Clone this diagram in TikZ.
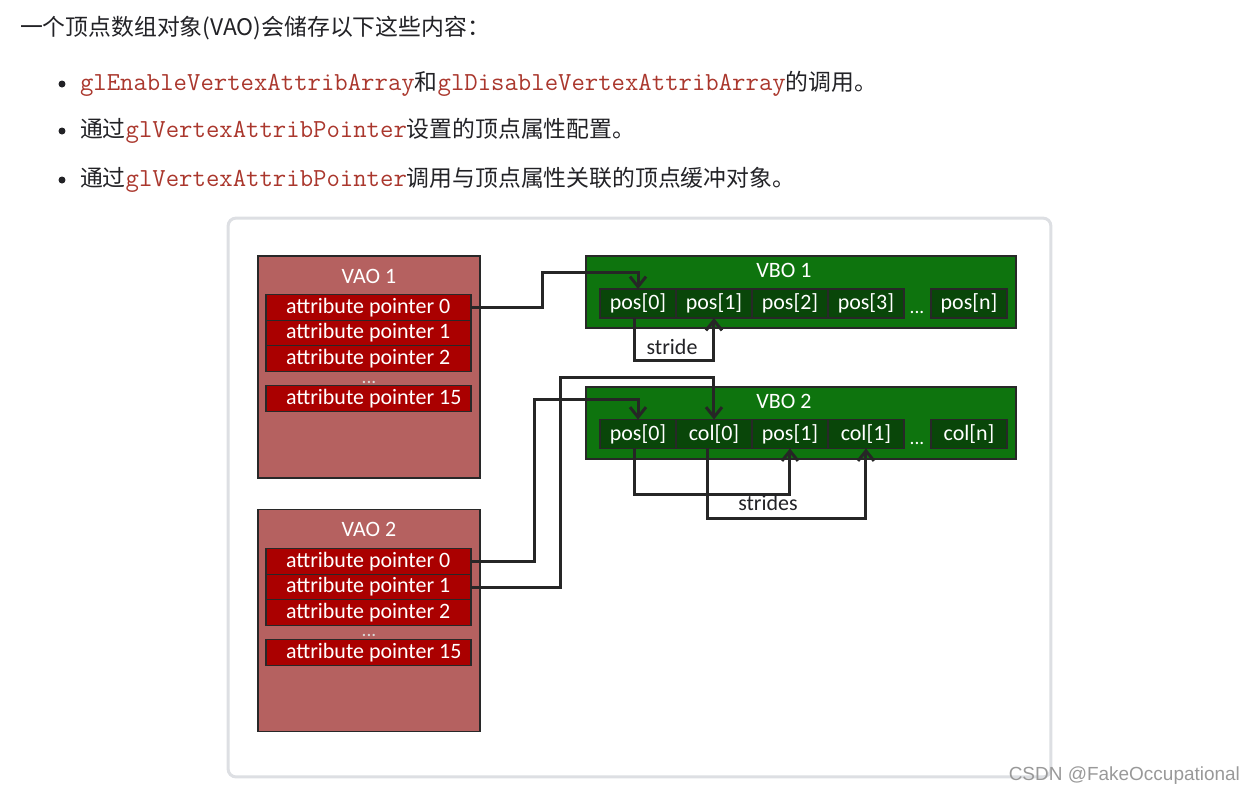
\documentclass[tikz,border=0pt]{standalone}
\usepackage{fontspec}
\setmainfont{Noto Sans CJK SC}
\newfontfamily\diagfont{Carlito}
\newfontfamily\markfont{Liberation Sans}
\usetikzlibrary{positioning,arrows.meta}

\definecolor{codered}{RGB}{170,55,45}
\definecolor{vaofill}{RGB}{181,97,96}
\definecolor{ptrfill}{RGB}{170,0,0}
\definecolor{vbofill}{RGB}{14,116,14}
\definecolor{cellfill}{RGB}{9,70,9}
\definecolor{edge}{RGB}{40,40,40}
\definecolor{panelgray}{RGB}{221,223,227}
\definecolor{textdark}{RGB}{34,34,38}

\newcommand{\code}[1]{{\color{codered}\ttfamily\fontsize{14.8}{17}\selectfont #1}}
\newcommand{\ptrlabel}[1]{\makebox[3.3cm][l]{attribute pointer #1}}

\begin{document}
\begin{tikzpicture}[x=0.02cm, y=-0.02cm, inner sep=0, outer sep=0,
  txt/.style={anchor=west, text=textdark, font=\fontsize{13}{15}\selectfont},
  dot/.style={circle, fill=textdark, minimum size=0.14cm},
  panel/.style={rectangle, rounded corners=0.16cm, draw=panelgray, line width=0.06cm, fill=white},
  vao/.style={rectangle, draw=edge, line width=0.7pt, fill=vaofill, minimum width=4.44cm, minimum height=4.44cm},
  ptr/.style={rectangle, draw=edge, line width=0.7pt, fill=ptrfill, minimum width=4.1cm, minimum height=0.51cm, text=white, font=\diagfont\fontsize{12.5}{12}\selectfont},
  vbo/.style={rectangle, draw=edge, line width=0.7pt, fill=vbofill, minimum width=8.6cm, minimum height=1.44cm},
  cell/.style={rectangle, draw=edge, line width=0.7pt, fill=cellfill, minimum width=1.52cm, minimum height=0.58cm, text=white, font=\diagfont\fontsize{12.5}{12}\selectfont},
  lbl/.style={text=white, font=\diagfont\fontsize{12.5}{12}\selectfont},
  dots/.style={anchor=base, text=white!85!black, font=\diagfont\fontsize{11}{11}\selectfont},
  note/.style={text=textdark, font=\diagfont\fontsize{12.5}{12}\selectfont},
  link/.style={draw=black!85, line width=0.06cm, -{Straight Barb[length=0.2cm, width=0.32cm, line width=0.06cm]}},
  ]
  \useasboundingbox (0,0) rectangle (1255,796);

  % text above the figure
  \node[txt] (title) at (20,28) {一个顶点数组对象(VAO)会储存以下这些内容：};
  \node[dot] (dot1) at (62,84) {};
  \node[dot] (dot2) at (62,131) {};
  \node[dot] (dot3) at (62,180) {};
  \node[txt] (item1) at (80,84) {\code{glEnableVertexAttribArray}和\code{glDisableVertexAttribArray}的调用。};
  \node[txt] (item2) at (80,131) {通过\code{glVertexAttribPointer}设置的顶点属性配置。};
  \node[txt] (item3) at (80,180) {通过\code{glVertexAttribPointer}调用与顶点属性关联的顶点缓冲对象。};

  \node[panel, minimum width=16.46cm, minimum height=11.18cm] (panel) at (639.5,497.5) {};

  % VAO 1
  \node[vao] (vao1) at (369,367) {};
  \node[lbl] (vao1t) at (369,276) {VAO 1};
  \node[ptr] (v1p0) at (368.5,307.5) {\ptrlabel{0}};
  \node[ptr, below=0pt of v1p0] (v1p1) {\ptrlabel{1}};
  \node[ptr, below=0pt of v1p1] (v1p2) {\ptrlabel{2}};
  \node[dots] (v1dots) at (369,383) {...};
  \node[ptr] (v1p15) at (368.5,398.5) {\ptrlabel{15}};

  % VAO 2
  \node[vao] (vao2) at (369,620.5) {};
  \node[lbl] (vao2t) at (369,529) {VAO 2};
  \node[ptr] (v2p0) at (368.5,561.5) {\ptrlabel{0}};
  \node[ptr, below=0pt of v2p0] (v2p1) {\ptrlabel{1}};
  \node[ptr, below=0pt of v2p1] (v2p2) {\ptrlabel{2}};
  \node[dots] (v2dots) at (369,636) {...};
  \node[ptr] (v2p15) at (368.5,652.5) {\ptrlabel{15}};

  % VBO 1
  \node[vbo] (vbo1) at (801,292) {};
  \node[lbl] (vbo1t) at (784,270) {VBO 1};
  \node[cell] (b1c0) at (638,303.5) {pos[0]};
  \node[cell, right=0pt of b1c0] (b1c1) {pos[1]};
  \node[cell, right=0pt of b1c1] (b1c2) {pos[2]};
  \node[cell, right=0pt of b1c2] (b1c3) {pos[3]};
  \node[dots, text=white] (b1dots) at (917,313) {...};
  \node[cell] (b1cn) at (969,303.5) {pos[n]};

  % VBO 2
  \node[vbo] (vbo2) at (801,423) {};
  \node[lbl] (vbo2t) at (784,401) {VBO 2};
  \node[cell] (b2c0) at (638,434) {pos[0]};
  \node[cell, right=0pt of b2c0] (b2c1) {col[0]};
  \node[cell, right=0pt of b2c1] (b2c2) {pos[1]};
  \node[cell, right=0pt of b2c2] (b2c3) {col[1]};
  \node[dots, text=white] (b2dots) at (917,444) {...};
  \node[cell] (b2cn) at (969,434) {col[n]};

  % pointers into the buffers
  \draw[link] (v1p0.east) -| ++(72,-35.5) -| (b1c0.north);
  \draw[link] (v2p0.east) -| ++(64,-162.5) -| (b2c0.north);
  \draw[link] (v2p1.east) -| ++(90,-210) -| (b2c1.north);

  % strides
  \draw[link] ([xshift=-0.08cm]b1c0.south) -- ++(0,42) -| (b1c1.south);
  \node[note] (stride) at (672,347) {stride};
  \draw[link] ([xshift=-0.08cm]b2c0.south) -- ++(0,46) -| (b2c2.south);
  \draw[link] ([xshift=-0.12cm]b2c1.south) -- ++(0,70) -| (b2c3.south);
  \node[note] (strides) at (768,503) {strides};

  \node[anchor=east, text=black!40, font=\markfont\fontsize{10.8}{12}\selectfont] (mark) at (1240,776) {CSDN @FakeOccupational};
\end{tikzpicture}
\end{document}
